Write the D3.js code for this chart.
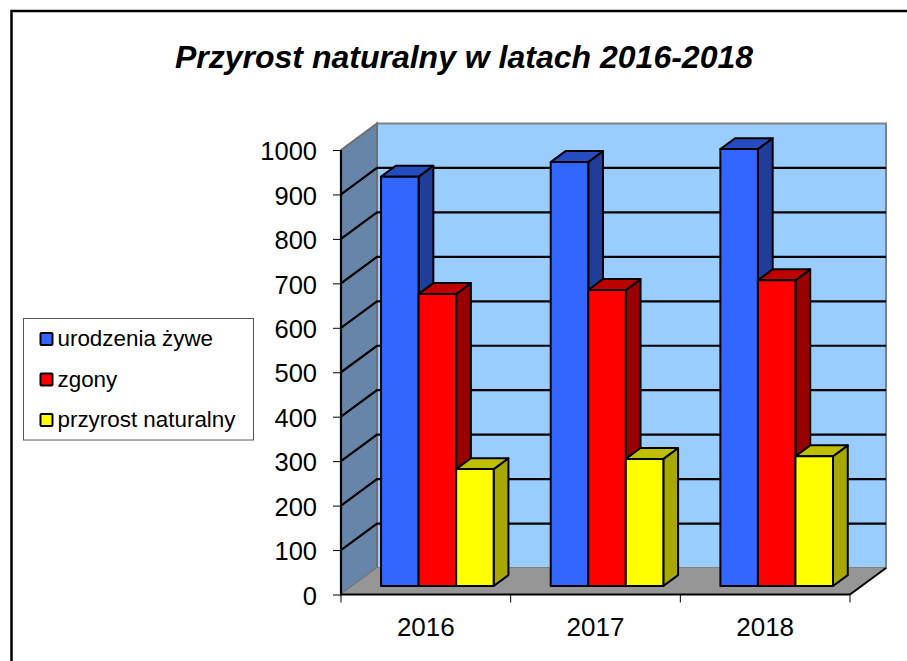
<!DOCTYPE html>
<html>
<head>
    <meta charset="utf-8">
    <title>Przyrost naturalny</title>
    <script src="https://d3js.org/d3.v7.min.js"></script>
    <style>
        html, body { margin: 0; padding: 0; background: #fff; }
        svg { display: block; }
        text { font-family: "Liberation Sans", Arial, sans-serif; fill: #000; }
    </style>
</head>
<body>
<script>
const years = ["2016", "2017", "2018"];
const seriesNames = ["urodzenia żywe", "zgony", "przyrost naturalny"];
const urodzenia = [921, 954, 983];
const zgony = [657, 666, 688];
const przyrost = [263, 286, 292];
const yTicks = [0, 100, 200, 300, 400, 500, 600, 700, 800, 900, 1000];
const frontColors = ["#3366ff", "#ff0000", "#ffff00"];
const topColors = ["#264dbf", "#bf0000", "#bfbf00"];
const sideColors = ["#1f3d99", "#990000", "#a8a800"];

const values = [urodzenia, zgony, przyrost];

const width = 907, height = 661;
const depthX = 36, depthY = 26.5;
const barZ0 = 0.32, barZ1 = 0.73;

const svg = d3.select("body").append("svg")
    .attr("width", width)
    .attr("height", height);

// chart frame, only top and left are in the picture
svg.append("path")
    .attr("d", "M11.5 661V11H907")
    .attr("fill", "none")
    .attr("stroke", "#000")
    .attr("stroke-width", 2.5);

svg.append("text")
    .attr("x", 464)
    .attr("y", 68)
    .attr("text-anchor", "middle")
    .attr("font-size", 32)
    .attr("font-weight", "bold")
    .attr("font-style", "italic")
    .text("Przyrost naturalny w latach 2016-2018");

const x = d3.scaleBand().domain(years).range([341, 850]);
const xInner = d3.scaleBand().domain(seriesNames).range([0, x.bandwidth()]).paddingOuter(0.76);
const y = d3.scaleLinear().domain([0, 1000]).range([594.5, 150]);

// oblique projection: z 0 is the front of the box, z 1 the back wall
const px = (xv, z) => xv + z * depthX;
const py = (v, z) => y(v) - z * depthY;
const poly = pts => "M" + pts.map(p => p.join(" ")).join("L") + "Z";

const x0 = x.range()[0], x1 = x.range()[1];

// walls and floor
svg.append("path")
    .attr("d", poly([[px(x0, 1), py(1000, 1)], [px(x1, 1), py(1000, 1)], [px(x1, 1), py(0, 1)], [px(x0, 1), py(0, 1)]]))
    .attr("fill", "#99ccff")
    .attr("stroke", "#808080")
    .attr("stroke-width", 2);
svg.append("path")
    .attr("d", poly([[px(x0, 0), py(1000, 0)], [px(x0, 1), py(1000, 1)], [px(x0, 1), py(0, 1)], [px(x0, 0), py(0, 0)]]))
    .attr("fill", "#6685a8")
    .attr("stroke", "#6e6e6e")
    .attr("stroke-width", 2);
svg.append("path")
    .attr("d", poly([[px(x0, 0), py(0, 0)], [px(x1, 0), py(0, 0)], [px(x1, 1), py(0, 1)], [px(x0, 1), py(0, 1)]]))
    .attr("fill", "#969696");

// gridlines
svg.append("g").selectAll("path")
    .data(yTicks.filter(d => d > 0 && d < 1000))
    .join("path")
    .attr("d", d => `M${px(x0, 0)} ${py(d, 0)}L${px(x0, 1)} ${py(d, 1)}L${px(x1, 1)} ${py(d, 1)}`)
    .attr("fill", "none")
    .attr("stroke", "#000")
    .attr("stroke-width", 2.2);

// floor right edge
svg.append("line")
    .attr("x1", px(x1, 0)).attr("y1", py(0, 0))
    .attr("x2", px(x1, 1)).attr("y2", py(0, 1))
    .attr("stroke", "#000")
    .attr("stroke-width", 2);

// bars
years.forEach((year, i) => {
    seriesNames.forEach((name, s) => {
        const v = values[s][i];
        const l = x(year) + xInner(name);
        const r = l + xInner.bandwidth();
        const g = svg.append("g")
            .attr("stroke", "#000")
            .attr("stroke-width", 2)
            .attr("stroke-linejoin", "round");
        g.append("path")
            .attr("fill", sideColors[s])
            .attr("d", poly([[px(r, barZ0), py(0, barZ0)], [px(r, barZ1), py(0, barZ1)], [px(r, barZ1), py(v, barZ1)], [px(r, barZ0), py(v, barZ0)]]));
        g.append("path")
            .attr("fill", topColors[s])
            .attr("d", poly([[px(l, barZ0), py(v, barZ0)], [px(r, barZ0), py(v, barZ0)], [px(r, barZ1), py(v, barZ1)], [px(l, barZ1), py(v, barZ1)]]));
        g.append("path")
            .attr("fill", frontColors[s])
            .attr("d", poly([[px(l, barZ0), py(0, barZ0)], [px(r, barZ0), py(0, barZ0)], [px(r, barZ0), py(v, barZ0)], [px(l, barZ0), py(v, barZ0)]]));
    });
});

// y axis
const yAxis = svg.append("g")
    .attr("transform", `translate(${x0},0)`)
    .call(d3.axisLeft(y).tickValues(yTicks).tickSize(8).tickPadding(16).tickFormat(d3.format("d")));
yAxis.select(".domain").attr("d", `M0 ${y(1000)}V${y(0)}`).attr("stroke", "#000").attr("stroke-width", 2.2);
yAxis.selectAll(".tick line").attr("stroke", "#000").attr("stroke-width", 1);
yAxis.selectAll("text").attr("font-size", 25.5).attr("dy", "0.38em").style("font-family", '"Liberation Sans", Arial, sans-serif');

// x axis, ticks sit between the categories
const xAxis = svg.append("g")
    .attr("transform", `translate(0,${y(0)})`)
    .call(d3.axisBottom(x).tickSize(0).tickPadding(23));
xAxis.select(".domain").attr("d", `M${x0} 0H${x1}`).attr("stroke", "#000").attr("stroke-width", 2.2);
xAxis.selectAll("text").attr("font-size", 26).style("font-family", '"Liberation Sans", Arial, sans-serif');
xAxis.selectAll(".bound")
    .data(d3.range(years.length + 1))
    .join("line")
    .attr("class", "bound")
    .attr("x1", d => x0 + d * x.step())
    .attr("x2", d => x0 + d * x.step())
    .attr("y1", 0)
    .attr("y2", 8)
    .attr("stroke", "#000")
    .attr("stroke-width", 1);

// legend
const legend = svg.append("g");
legend.append("rect")
    .attr("x", 23.5).attr("y", 318.5)
    .attr("width", 230).attr("height", 121.5)
    .attr("fill", "#fff")
    .attr("stroke", "#555")
    .attr("stroke-width", 1);
const legendY = d3.scalePoint().domain(seriesNames).range([339, 420]);
seriesNames.forEach((name, s) => {
    legend.append("rect")
        .attr("x", 40.5).attr("y", legendY(name) - 6)
        .attr("width", 12).attr("height", 12)
        .attr("rx", 1)
        .attr("fill", frontColors[s])
        .attr("stroke", "#000")
        .attr("stroke-width", 2);
    legend.append("text")
        .attr("x", 57.5).attr("y", legendY(name) + 7)
        .attr("font-size", 22.4)
        .text(name);
});
</script>
</body>
</html>
